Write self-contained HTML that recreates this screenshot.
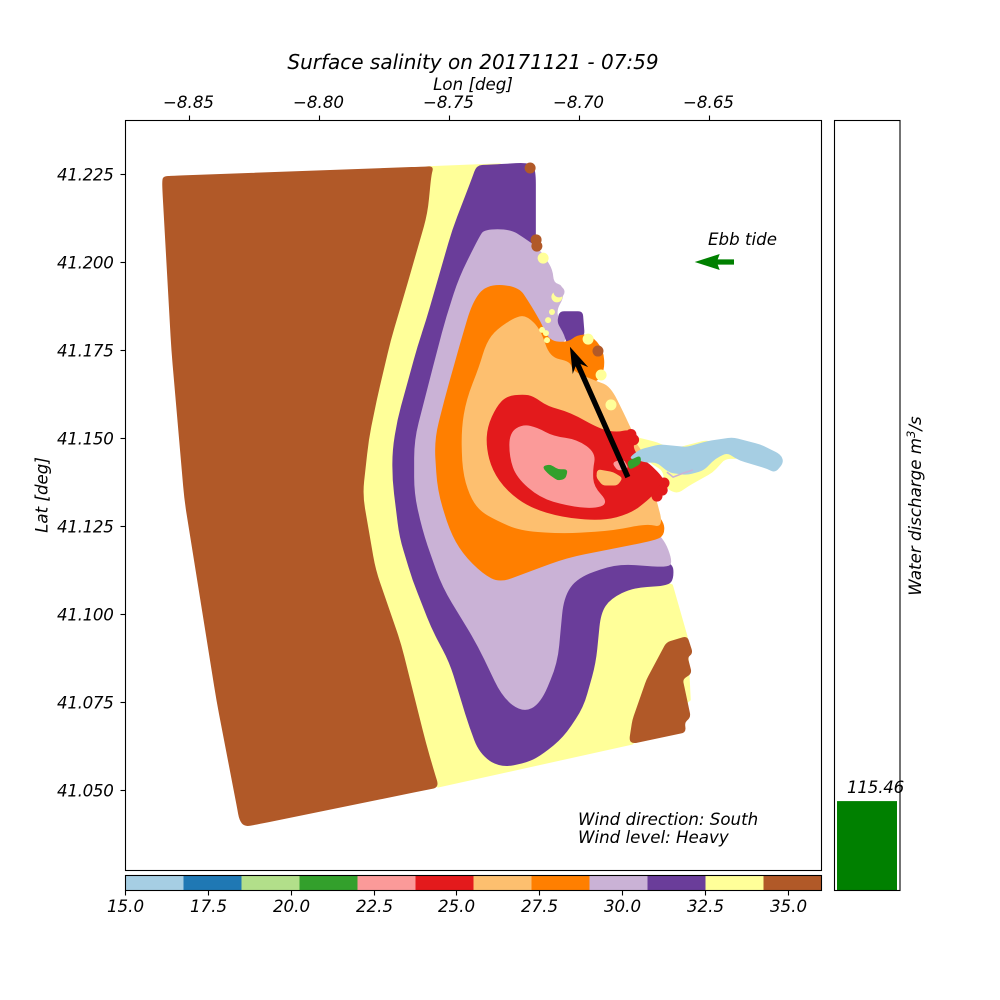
<!DOCTYPE html>
<html lang="en">
<head>
<meta charset="utf-8">
<title>Surface salinity on 20171121 - 07:59</title>
<style>
html,body{margin:0;padding:0;background:#fff;width:1000px;height:1000px;overflow:hidden}
svg{display:block}
text{font-family:"DejaVu Sans",sans-serif;font-style:italic;fill:#000;font-size:16.67px}
</style>
</head>
<body>
<svg id="chart" xmlns="http://www.w3.org/2000/svg" width="1000" height="1000" viewBox="0 0 1000 1000">
  <rect x="0" y="0" width="1000" height="1000" fill="#fff"/>
  <g id="map-layer"></g>
  <rect x="125.5" y="120.5" width="696" height="750" fill="none" stroke="#000" stroke-width="1.1"/>
  <g id="axis-layer"></g>
  <g id="colorbar-layer"></g>
  <g id="bar-layer"></g>
  <text x="473" y="69" text-anchor="middle" style="font-size:20px">Surface salinity on 20171121 - 07:59</text>
  <text x="473" y="90" text-anchor="middle">Lon [deg]</text>
  <text transform="translate(47.5,495) rotate(-90)" text-anchor="middle">Lat [deg]</text>
  <text transform="translate(921,506) rotate(-90)" text-anchor="middle">Water discharge m<tspan dy="-6" style="font-size:11.7px">3</tspan><tspan dy="6">/s</tspan></text>
  <text x="708" y="245">Ebb tide</text>
  <text x="578" y="825">Wind direction: South</text>
  <text x="578" y="843">Wind level: Heavy</text>
</svg>
<script>
// Colour scale
const cmapColors = ['#a6cee3','#1f78b4','#b2df8a','#33a02c','#fb9a99','#e31a1c','#fdbf6f','#ff7f00','#cab2d6','#6a3d9a','#ffff99','#b15928'];
const salinityMin = 15;
const salinityMax = 36;

// Axis ticks
const lonTicks = [-8.85,-8.80,-8.75,-8.70,-8.65];
const lonTickLabels = ['\u22128.85','\u22128.80','\u22128.75','\u22128.70','\u22128.65'];
const latTicks = [41.05,41.075,41.10,41.125,41.15,41.175,41.20,41.225];
const latTickLabels = ['41.050','41.075','41.100','41.125','41.150','41.175','41.200','41.225'];
const colorbarTicks = [15,17.5,20,22.5,25,27.5,30,32.5,35];
const colorbarTickLabels = ['15.0','17.5','20.0','22.5','25.0','27.5','30.0','32.5','35.0'];

// Discharge
const dischargeValue = 115.46;
const dischargeMax = 1000;

// Wind and tide arrows [lon, lat]
const windArrowStart = [-8.6812,41.1389];
const windArrowEnd = [-8.7035,41.1759];
const tideArrowStart = [-8.6404,41.2000];
const tideArrowEnd = [-8.6555,41.2000];

// Salinity isoline regions [lon, lat]
const baseYellow = [[-8.7581,41.2270],[-8.7304,41.2278],[-8.7304,41.1608],[-8.6919,41.1153],[-8.6642,41.1082],[-8.6585,41.0935],[-8.6573,41.0756],[-8.6796,41.0631],[-8.7542,41.0509],[-8.7612,41.0528],[-8.7862,41.1324]];
const brownWest = [[-8.8596,41.2241],[-8.8565,41.2243],[-8.7590,41.2269],[-8.7562,41.2270],[-8.7571,41.2247],[-8.7585,41.2139],[-8.7662,41.1940],[-8.7727,41.1778],[-8.7781,41.1608],[-8.7812,41.1494],[-8.7835,41.1338],[-8.7785,41.1125],[-8.7688,41.0918],[-8.7592,41.0634],[-8.7556,41.0543],[-8.7542,41.0509],[-8.7581,41.0503],[-8.8246,41.0403],[-8.8285,41.0398],[-8.8304,41.0415],[-8.8312,41.0449],[-8.8392,41.0756],[-8.8515,41.1324],[-8.8565,41.1750],[-8.8600,41.2210],[-8.8600,41.2233]];
const brownSouthEast = [[-8.6804,41.0642],[-8.6792,41.0699],[-8.6738,41.0813],[-8.6662,41.0918],[-8.6585,41.0935],[-8.6565,41.0889],[-8.6585,41.0878],[-8.6569,41.0832],[-8.6604,41.0815],[-8.6573,41.0707],[-8.6596,41.0693],[-8.6592,41.0665],[-8.6792,41.0634]];
const purpleRegion = [[-8.7392,41.2273],[-8.7354,41.2274],[-8.7188,41.2281],[-8.7169,41.2261],[-8.7169,41.2034],[-8.7188,41.1892],[-8.6919,41.1153],[-8.6642,41.1148],[-8.6638,41.1102],[-8.6658,41.1082],[-8.6792,41.1077],[-8.6881,41.1045],[-8.6919,41.1003],[-8.6938,41.0861],[-8.6985,41.0736],[-8.7062,41.0651],[-8.7138,41.0605],[-8.7196,41.0580],[-8.7304,41.0565],[-8.7381,41.0605],[-8.7419,41.0679],[-8.7496,41.0864],[-8.7562,41.0955],[-8.7638,41.1097],[-8.7688,41.1219],[-8.7715,41.1381],[-8.7715,41.1466],[-8.7696,41.1551],[-8.7619,41.1759],[-8.7585,41.1835],[-8.7485,41.2091],[-8.7408,41.2239]];
const lavenderRegion = [[-8.7362,41.2091],[-8.7265,41.2091],[-8.7215,41.2068],[-8.7162,41.2040],[-8.7131,41.2011],[-8.7104,41.1977],[-8.7100,41.1940],[-8.7065,41.1932],[-8.7062,41.1898],[-8.7088,41.1866],[-8.7081,41.1835],[-8.7042,41.1773],[-8.7112,41.1770],[-8.6919,41.1466],[-8.6765,41.1267],[-8.6677,41.1216],[-8.6642,41.1148],[-8.6662,41.1134],[-8.6854,41.1145],[-8.7008,41.1105],[-8.7062,41.1048],[-8.7085,41.0861],[-8.7150,41.0747],[-8.7215,41.0722],[-8.7292,41.0764],[-8.7392,41.0918],[-8.7523,41.1077],[-8.7592,41.1219],[-8.7631,41.1338],[-8.7631,41.1494],[-8.7542,41.1750],[-8.7508,41.1844],[-8.7458,41.1957],[-8.7381,41.2071]];
const purpleBlock = [[-8.7073,41.1858],[-8.6988,41.1858],[-8.6981,41.1793],[-8.7042,41.1764],[-8.7054,41.1793],[-8.7081,41.1830]];
const orangeRegion = [[-8.7354,41.1935],[-8.7235,41.1929],[-8.7196,41.1886],[-8.7150,41.1830],[-8.7115,41.1773],[-8.7042,41.1770],[-8.7008,41.1790],[-8.6958,41.1793],[-8.6908,41.1750],[-8.6904,41.1693],[-8.6931,41.1662],[-8.6958,41.1662],[-8.6765,41.1324],[-8.6677,41.1267],[-8.6673,41.1224],[-8.6715,41.1210],[-8.6854,41.1190],[-8.7046,41.1162],[-8.7215,41.1116],[-8.7304,41.1091],[-8.7369,41.1116],[-8.7446,41.1173],[-8.7496,41.1239],[-8.7542,41.1352],[-8.7554,41.1494],[-8.7515,41.1608],[-8.7458,41.1759],[-8.7408,41.1884]];
const lightOrangeRegion = [[-8.7238,41.1844],[-8.7200,41.1844],[-8.7150,41.1807],[-8.7115,41.1727],[-8.7035,41.1716],[-8.7027,41.1688],[-8.6931,41.1659],[-8.6881,41.1645],[-8.6831,41.1571],[-8.6792,41.1509],[-8.6746,41.1438],[-8.6708,41.1332],[-8.6677,41.1247],[-8.6738,41.1259],[-8.6869,41.1239],[-8.7062,41.1230],[-8.7227,41.1239],[-8.7315,41.1267],[-8.7381,41.1295],[-8.7419,41.1338],[-8.7446,41.1409],[-8.7450,41.1523],[-8.7431,41.1608],[-8.7381,41.1702],[-8.7354,41.1770],[-8.7315,41.1807]];
const riverYellow = [[-8.6792,41.1503],[-8.6700,41.1486],[-8.6642,41.1466],[-8.6573,41.1480],[-8.6508,41.1492],[-8.6458,41.1480],[-8.6381,41.1443],[-8.6438,41.1443],[-8.6488,41.1403],[-8.6565,41.1372],[-8.6623,41.1344],[-8.6662,41.1358],[-8.6677,41.1409],[-8.6727,41.1432]];
const redRegion = [[-8.7215,41.1622],[-8.7277,41.1617],[-8.7315,41.1588],[-8.7350,41.1531],[-8.7354,41.1474],[-8.7331,41.1409],[-8.7277,41.1352],[-8.7188,41.1304],[-8.7062,41.1276],[-8.6908,41.1267],[-8.6804,41.1287],[-8.6738,41.1324],[-8.6708,41.1347],[-8.6673,41.1361],[-8.6677,41.1386],[-8.6735,41.1429],[-8.6765,41.1438],[-8.6796,41.1472],[-8.6785,41.1494],[-8.6804,41.1523],[-8.6854,41.1514],[-8.6919,41.1523],[-8.7035,41.1571],[-8.7123,41.1588],[-8.7177,41.1617]];
const pinkRegion = [[-8.7215,41.1537],[-8.7265,41.1514],[-8.7265,41.1446],[-8.7238,41.1389],[-8.7150,41.1332],[-8.7046,41.1310],[-8.6946,41.1301],[-8.6888,41.1315],[-8.6946,41.1361],[-8.6950,41.1409],[-8.6938,41.1457],[-8.7008,41.1494],[-8.7100,41.1503],[-8.7162,41.1528]];
const lightOrangeIsland = [[-8.6927,41.1409],[-8.6869,41.1401],[-8.6835,41.1386],[-8.6854,41.1367],[-8.6908,41.1367],[-8.6931,41.1389]];
const pinkIsland = [[-8.6869,41.1429],[-8.6831,41.1438],[-8.6812,41.1415],[-8.6850,41.1409]];
const greenCore = [[-8.7138,41.1418],[-8.7112,41.1423],[-8.7081,41.1409],[-8.7046,41.1409],[-8.7054,41.1386],[-8.7081,41.1381],[-8.7119,41.1401]];
const riverBlue = [[-8.6804,41.1443],[-8.6765,41.1466],[-8.6688,41.1480],[-8.6585,41.1472],[-8.6508,41.1489],[-8.6408,41.1500],[-8.6304,41.1480],[-8.6227,41.1452],[-8.6215,41.1432],[-8.6246,41.1403],[-8.6277,41.1415],[-8.6381,41.1438],[-8.6431,41.1460],[-8.6477,41.1443],[-8.6523,41.1409],[-8.6585,41.1397],[-8.6650,41.1403],[-8.6700,41.1432],[-8.6746,41.1432],[-8.6785,41.1443]];
const riverMouthGreen = [[-8.6812,41.1432],[-8.6765,41.1448],[-8.6765,41.1428],[-8.6804,41.1412]];

// Region salinity values (drawn back to front)
const regionSeries = [
  ['base-yellow-region', baseYellow, 33.4],
  ['brown-west-region', brownWest, 35.0],
  ['brown-southeast-region', brownSouthEast, 35.0],
  ['purple-region', purpleRegion, 31.6],
  ['lavender-region', lavenderRegion, 29.9],
  ['purple-block-region', purpleBlock, 31.6],
  ['orange-region', orangeRegion, 28.1],
  ['light-orange-region', lightOrangeRegion, 26.4],
  ['river-yellow-region', riverYellow, 33.4],
  ['red-region', redRegion, 24.6],
  ['pink-region', pinkRegion, 22.9],
  ['light-orange-island', lightOrangeIsland, 26.4],
  ['pink-island', pinkIsland, 22.9],
  ['green-core-region', greenCore, 21.1],
  ['river-blue-region', riverBlue, 15.9],
  ['river-mouth-green', riverMouthGreen, 21.1]
];

// Isolated scatter points: lon, lat, salinity
const dotLons = [-8.7188,-8.7165,-8.7162,-8.7138,-8.7085,-8.7077,-8.6965,-8.6927,-8.6915,-8.6877,-8.6673,-8.6680,-8.6700,-8.6800,-8.6790];
const dotLats = [41.2267,41.2063,41.2045,41.2011,41.1901,41.1915,41.1781,41.1747,41.1679,41.1594,41.1372,41.1352,41.1335,41.1510,41.1495];
const dotValues = [35,35,35,33.4,33.4,29.9,33.4,35,33.4,33.4,24.6,24.6,24.6,24.6,24.6];

// Small yellow flecks between lavender and orange
const fleckLons = [-8.7142,-8.7123,-8.7104,-8.7119,-8.7127];
const fleckLats = [41.1807,41.1778,41.1858,41.1835,41.1798];
const fleckValue = 33.4;

// River fringe speckles
const fringeLons = [-8.6662,-8.6638,-8.6600,-8.6562];
const fringeLats = [41.1403,41.1389,41.1400,41.1409];
const fringeValue = 30;

const SVGNS = 'http://www.w3.org/2000/svg';
const xPx = lon => 189 + (lon + 8.85) * 2600;
const yPx = lat => 174 + (41.225 - lat) * 3520;
const cbX = v => 125 + (v - salinityMin) * (696 / (salinityMax - salinityMin));
const barY = v => 890 - v * (770 / dischargeMax);
const colorOf = v => {
  const n = cmapColors.length;
  const i = Math.min(n - 1, Math.max(0, Math.floor((v - salinityMin) / (salinityMax - salinityMin) * n)));
  return cmapColors[i];
};
function make(tag, parent, attrs) {
  const el = document.createElementNS(SVGNS, tag);
  for (const k in attrs) el.setAttribute(k, attrs[k]);
  parent.appendChild(el);
  return el;
}
// Rounded-corner closed outline through projected vertices
function outline(points, radius) {
  const pts = points.map(p => [xPx(p[0]), yPx(p[1])]);
  const n = pts.length;
  let d = '';
  for (let i = 0; i < n; i++) {
    const prev = pts[(i + n - 1) % n], cur = pts[i], next = pts[(i + 1) % n];
    const l0 = Math.hypot(cur[0] - prev[0], cur[1] - prev[1]);
    const l1 = Math.hypot(next[0] - cur[0], next[1] - cur[1]);
    const c0 = Math.min(radius, l0 / 2), c1 = Math.min(radius, l1 / 2);
    const ax = cur[0] + (prev[0] - cur[0]) * c0 / l0, ay = cur[1] + (prev[1] - cur[1]) * c0 / l0;
    const bx = cur[0] + (next[0] - cur[0]) * c1 / l1, by = cur[1] + (next[1] - cur[1]) * c1 / l1;
    d += (i === 0 ? 'M' : 'L') + ax.toFixed(1) + ' ' + ay.toFixed(1) + 'Q' + cur[0].toFixed(1) + ' ' + cur[1].toFixed(1) + ' ' + bx.toFixed(1) + ' ' + by.toFixed(1);
  }
  return d + 'Z';
}
const cornerRadius = name => {
  if (name === 'base-yellow-region') return 0;
  if (name === 'brown-southeast-region' || name === 'purple-block-region') return 4;
  if (name === 'light-orange-island' || name === 'pink-island' || name === 'green-core-region' || name === 'river-mouth-green') return 3;
  if (name === 'river-blue-region' || name === 'river-yellow-region') return 5;
  if (name === 'brown-west-region' || name === 'purple-region') return 14;
  return 18;
};
const mapLayer = document.getElementById('map-layer');
const axisLayer = document.getElementById('axis-layer');
const colorbarLayer = document.getElementById('colorbar-layer');
const barLayer = document.getElementById('bar-layer');

// Regions
regionSeries.forEach(r => {
  const c = colorOf(r[2]);
  const el = make('path', mapLayer, {d: outline(r[1], cornerRadius(r[0])), fill: c, stroke: c, 'stroke-width': 1.5, 'stroke-linejoin': 'round'});
  
  
});

const fringe = make('polyline', mapLayer, {
  points: fringeLons.map((v, i) => xPx(v).toFixed(1) + ',' + yPx(fringeLats[i]).toFixed(1)).join(' '),
  fill: 'none', stroke: colorOf(fringeValue), 'stroke-width': 1.6
});



// Dots
dotLons.forEach((lon, i) => {
  const d = make('circle', mapLayer, {cx: xPx(lon), cy: yPx(dotLats[i]), r: 5.5, fill: colorOf(dotValues[i])});
  
  
});
fleckLons.forEach((lon, i) => {
  const d = make('circle', mapLayer, {cx: xPx(lon), cy: yPx(fleckLats[i]), r: 3, fill: colorOf(fleckValue)});
  
  
});

// Wind arrow
(function () {
  const x0 = xPx(windArrowStart[0]), y0 = yPx(windArrowStart[1]);
  const x1 = xPx(windArrowEnd[0]), y1 = yPx(windArrowEnd[1]);
  const len = Math.hypot(x1 - x0, y1 - y0);
  const ux = (x1 - x0) / len, uy = (y1 - y0) / len;
  const px = -uy, py = ux;
  const bx = x1 - ux * 26, by = y1 - uy * 26;
  const nx = x1 - ux * 20, ny = y1 - uy * 20;
  const w = 2.7, h = 8.5;
  const pts = [
    [x0 + px * w, y0 + py * w], [nx + px * w, ny + py * w],
    [bx + px * h, by + py * h], [x1, y1],
    [bx - px * h, by - py * h], [nx - px * w, ny - py * w],
    [x0 - px * w, y0 - py * w]
  ].map(p => p[0].toFixed(1) + ',' + p[1].toFixed(1)).join(' ');
  const a = make('polygon', mapLayer, {points: pts, fill: '#000'});
  
  
})();

// Tide arrow
(function () {
  const x0 = xPx(tideArrowStart[0]), x1 = xPx(tideArrowEnd[0]), y = yPx(tideArrowStart[1]);
  const pts = [[x0, y - 2.6], [x1 + 23, y - 2.6], [x1 + 25, y - 8], [x1, y], [x1 + 25, y + 8], [x1 + 23, y + 2.6], [x0, y + 2.6]]
    .map(p => p[0].toFixed(1) + ',' + p[1].toFixed(1)).join(' ');
  const a = make('polygon', mapLayer, {points: pts, fill: '#008000'});
  
  
})();

// Longitude ticks
lonTicks.forEach((v, i) => {
  const x = Math.round(xPx(v)) + 0.5;
  const t = make('line', axisLayer, {x1: x, x2: x, y1: 120, y2: 115.5, stroke: '#000', 'stroke-width': 1.1});
  
  
  const l = make('text', axisLayer, {x: x - 1, y: 108, 'text-anchor': 'middle'});
  l.textContent = lonTickLabels[i];
  
  
});

// Latitude ticks
latTicks.forEach((v, i) => {
  const y = Math.round(yPx(v)) + 0.5;
  const t = make('line', axisLayer, {x1: 125, x2: 120.5, y1: y, y2: y, stroke: '#000', 'stroke-width': 1.1});
  
  
  const l = make('text', axisLayer, {x: 113.5, y: y + 6, 'text-anchor': 'end', 'letter-spacing': '-0.3'});
  l.textContent = latTickLabels[i];
  
  
});

// Colorbar
cmapColors.forEach((c, i) => {
  const step = (salinityMax - salinityMin) / cmapColors.length;
  const x0 = cbX(salinityMin + i * step), x1 = cbX(salinityMin + (i + 1) * step);
  const s = make('rect', colorbarLayer, {x: x0 + 0.5, y: 875.5, width: x1 - x0, height: 15, fill: c});
  
  
});
const cbFrame = make('rect', colorbarLayer, {x: 125.5, y: 875.5, width: 696, height: 15, fill: 'none', stroke: '#000', 'stroke-width': 1.1});


colorbarTicks.forEach((v, i) => {
  const x = Math.round(cbX(v)) + 0.5;
  const t = make('line', colorbarLayer, {x1: x, x2: x, y1: 890.5, y2: 895.5, stroke: '#000', 'stroke-width': 1.1});
  
  
  const l = make('text', colorbarLayer, {x: x, y: 912, 'text-anchor': 'middle'});
  l.textContent = colorbarTickLabels[i];
  
  
});

// Discharge bar
const dischargeBar = make('rect', barLayer, {x: 837, y: barY(dischargeValue), width: 60, height: barY(0) - barY(dischargeValue), fill: '#008000'});


const barFrame = make('rect', barLayer, {x: 834.5, y: 120.5, width: 65.5, height: 770, fill: 'none', stroke: '#000', 'stroke-width': 1.1});


const barLabel = make('text', barLayer, {x: 847, y: barY(dischargeValue) - 8, 'letter-spacing': '-0.2'});
barLabel.textContent = dischargeValue.toFixed(2);


</script>
</body>
</html>
